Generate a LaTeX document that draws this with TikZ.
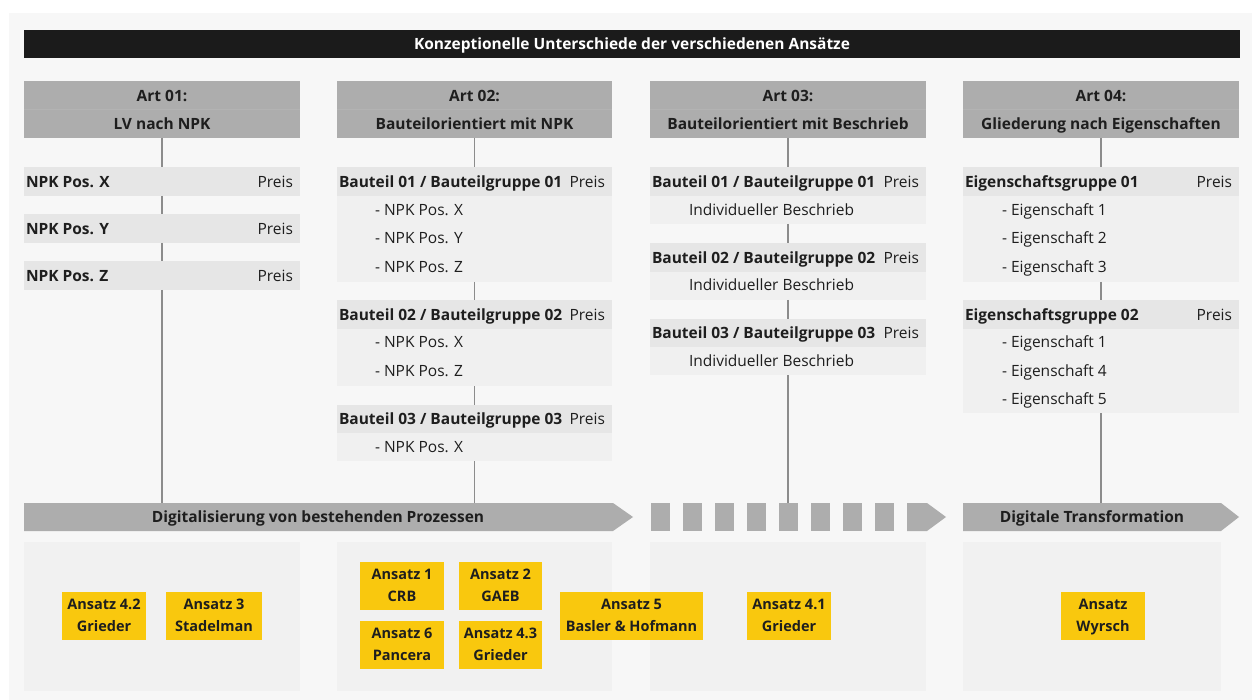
\documentclass[tikz,border=0pt]{standalone}
\usepackage{fontspec}
\IfFontExistsTF{Noto Sans Bold}
  {\setmainfont{Noto Sans}[BoldFont={Noto Sans Bold}]}
  {\setmainfont{Open Sans}}

\definecolor{pagebg}{HTML}{FFFFFF}
\definecolor{panelbg}{HTML}{F7F7F7}
\definecolor{titlebg}{HTML}{1B1B1B}
\definecolor{headbg}{HTML}{ADADAD}
\definecolor{headseam}{HTML}{B3B3B3}
\definecolor{rowbg}{HTML}{E6E6E6}
\definecolor{bodybg}{HTML}{F0F0F0}
\definecolor{lowbg}{HTML}{F1F1F1}
\definecolor{ansatzbg}{HTML}{F9C80E}
\definecolor{linegray}{HTML}{8C8C8C}
\definecolor{arrowgray}{HTML}{ADADAD}
\definecolor{txt}{HTML}{1E1E1E}

\tikzset{
  x=1pt, y=-1pt,
  every node/.style={inner sep=0pt, outer sep=0pt, text=txt},
  oneline/.style={text height=11.2pt, text depth=0pt},
  titlebox/.style={fill=titlebg, text=white, oneline, font=\fontsize{15.5}{18}\selectfont\bfseries},
  headbox/.style={fill=headbg, align=center, font=\fontsize{15.5}{28}\selectfont\bfseries},
  seam/.style={draw=headseam, line width=0.5pt},
  rowbox/.style={fill=rowbg},
  bodybox/.style={fill=bodybg},
  lowbox/.style={fill=lowbg},
  ansatzbox/.style={fill=ansatzbg, align=center, font=\fontsize{14.5}{22}\selectfont\bfseries},
  boldtxt/.style={oneline, font=\fontsize{15.5}{18}\selectfont\bfseries},
  plaintxt/.style={oneline, font=\fontsize{15.5}{18}\selectfont},
  arrowtxt/.style={oneline, font=\fontsize{15.5}{18}\selectfont\bfseries},
  conn/.style={draw=linegray, line width=1.3pt},
}

% two centred lines with struts, so every box sets its lines at the same height
\newcommand\twolines[2]{\strut #1\\\strut #2}

% box from corner (x1,y1) to corner (x2,y2), y measured downwards
\newcommand\rbox[7]{%
  \node[#2, minimum width={(#5-#3)*1pt}, minimum height={(#6-#4)*1pt}]
    (#1) at ({(#3+#5)/2},{(#4+#6)/2}) {#7};}

% column heading with a faint seam between its two lines
\newcommand\headbox[7]{%
  \rbox{#1}{headbox}{#2}{#3}{#4}{#5}{}
  \draw[seam] (#1.west) -- (#1.east);
  \node[headbox, fill=none] (#1-t) at (#1.center) {\twolines{#6}{#7}};}

% group heading row: bold title on the left, price on the right
\newcommand\grouprow[7]{%
  \rbox{#1}{rowbox}{#2}{#3}{#4}{#5}{}
  \node[boldtxt, anchor=west] (#1-t) at ([xshift=2pt]#1.west) {#6};
  \node[plaintxt, anchor=east] (#1-p) at ([xshift=-7pt]#1.east) {#7};}

\begin{document}
\begin{tikzpicture}
  \useasboundingbox (0,0) rectangle (1252,700);
  \fill[pagebg] (0,0) rectangle (1252,700);
  \fill[panelbg] (9,13) rectangle (1252,700);

  % title bar
  \rbox{title}{titlebox}{24}{30}{1240}{58}{Konzeptionelle Unterschiede der verschiedenen Ansätze}

  % column headings
  \headbox{h1}{24}{81}{300}{138}{Art 01:}{LV nach NPK}
  \headbox{h2}{337}{81}{612}{138}{Art 02:}{Bauteilorientiert mit NPK}
  \headbox{h3}{650}{81}{926}{138}{Art 03:}{Bauteilorientiert mit Beschrieb}
  \headbox{h4}{963}{81}{1239}{138}{Art 04:}{Gliederung nach Eigenschaften}

  % column 1: LV nach NPK
  \grouprow{n1}{24}{167}{300}{196}{NPK Pos. X}{Preis}
  \grouprow{n2}{24}{214}{300}{243}{NPK Pos. Y}{Preis}
  \grouprow{n3}{24}{261}{300}{290}{NPK Pos. Z}{Preis}

  % column 2: Bauteilorientiert mit NPK
  \rbox{b1b}{bodybox}{337}{196}{612}{282}{}
  \grouprow{b1h}{337}{167}{612}{196}{Bauteil 01 / Bauteilgruppe 01}{Preis}
  \node[plaintxt, anchor=west] (b1i1) at (375,210) {- NPK Pos. X};
  \node[plaintxt, anchor=west] (b1i2) at (375,238) {- NPK Pos. Y};
  \node[plaintxt, anchor=west] (b1i3) at (375,267) {- NPK Pos. Z};
  \rbox{b2b}{bodybox}{337}{329}{612}{386}{}
  \grouprow{b2h}{337}{300}{612}{329}{Bauteil 02 / Bauteilgruppe 02}{Preis}
  \node[plaintxt, anchor=west] (b2i1) at (375,342) {- NPK Pos. X};
  \node[plaintxt, anchor=west] (b2i2) at (375,371) {- NPK Pos. Z};
  \rbox{b3b}{bodybox}{337}{433}{612}{461}{}
  \grouprow{b3h}{337}{405}{612}{433}{Bauteil 03 / Bauteilgruppe 03}{Preis}
  \node[plaintxt, anchor=west] (b3i1) at (375,447) {- NPK Pos. X};

  % column 3: Bauteilorientiert mit Beschrieb
  \rbox{c1b}{bodybox}{650}{196}{926}{224}{}
  \grouprow{c1h}{650}{167}{926}{196}{Bauteil 01 / Bauteilgruppe 01}{Preis}
  \node[plaintxt, anchor=west] (c1i1) at (689,210) {Individueller Beschrieb};
  \rbox{c2b}{bodybox}{650}{272}{926}{300}{}
  \grouprow{c2h}{650}{243}{926}{272}{Bauteil 02 / Bauteilgruppe 02}{Preis}
  \node[plaintxt, anchor=west] (c2i1) at (689,285) {Individueller Beschrieb};
  \rbox{c3b}{bodybox}{650}{347}{926}{375}{}
  \grouprow{c3h}{650}{319}{926}{347}{Bauteil 03 / Bauteilgruppe 03}{Preis}
  \node[plaintxt, anchor=west] (c3i1) at (689,361) {Individueller Beschrieb};

  % column 4: Gliederung nach Eigenschaften
  \rbox{e1b}{bodybox}{963}{196}{1239}{282}{}
  \grouprow{e1h}{963}{167}{1239}{196}{Eigenschaftsgruppe 01}{Preis}
  \node[plaintxt, anchor=west] (e1i1) at (1002,210) {- Eigenschaft 1};
  \node[plaintxt, anchor=west] (e1i2) at (1002,238) {- Eigenschaft 2};
  \node[plaintxt, anchor=west] (e1i3) at (1002,267) {- Eigenschaft 3};
  \rbox{e2b}{bodybox}{963}{329}{1239}{413}{}
  \grouprow{e2h}{963}{300}{1239}{329}{Eigenschaftsgruppe 02}{Preis}
  \node[plaintxt, anchor=west] (e2i1) at (1002,342) {- Eigenschaft 1};
  \node[plaintxt, anchor=west] (e2i2) at (1002,371) {- Eigenschaft 4};
  \node[plaintxt, anchor=west] (e2i3) at (1002,399) {- Eigenschaft 5};

  % process arrows
  \fill[arrowgray] (24,503) -- (613,503) -- (633,517) -- (613,531) -- (24,531) -- cycle;
  \node[arrowtxt] (p1) at (318,517) {Digitalisierung von bestehenden Prozessen};
  \foreach \k in {0,...,7} {
    \fill[arrowgray] ({651+32*\k},503) rectangle ({670+32*\k},531);
  }
  \fill[arrowgray] (907,503) -- (927,503) -- (946,517) -- (927,531) -- (907,531) -- cycle;
  \fill[arrowgray] (963,503) -- (1221,503) -- (1239,517) -- (1221,531) -- (963,531) -- cycle;
  \node[arrowtxt] (p4) at (1092,517) {Digitale Transformation};

  \coordinate (a1) at (162,503);
  \coordinate (a2) at (474.5,503);
  \coordinate (a3) at (788,503);
  \coordinate (a4) at (1101,503);

  % connectors
  \draw[conn] (h1.south) -- (n1.north);
  \draw[conn] (n1.south) -- (n2.north);
  \draw[conn] (n2.south) -- (n3.north);
  \draw[conn] (n3.south) -- (a1);
  \draw[conn] (h2.south) -- (b1h.north);
  \draw[conn] (b1b.south) -- (b2h.north);
  \draw[conn] (b2b.south) -- (b3h.north);
  \draw[conn] (b3b.south) -- (a2);
  \draw[conn] (h3.south) -- (c1h.north);
  \draw[conn] (c1b.south) -- (c2h.north);
  \draw[conn] (c2b.south) -- (c3h.north);
  \draw[conn] (c3b.south) -- (a3);
  \draw[conn] (h4.south) -- (e1h.north);
  \draw[conn] (e1b.south) -- (e2h.north);
  \draw[conn] (e2b.south) -- (a4);

  % lower panels
  \rbox{l1}{lowbox}{24}{542}{300}{691}{}
  \rbox{l2}{lowbox}{337}{542}{612}{691}{}
  \rbox{l3}{lowbox}{650}{542}{926}{691}{}
  \rbox{l4}{lowbox}{963}{542}{1221}{691}{}

  % approaches
  \rbox{s42}{ansatzbox}{62}{592}{146}{640}{\twolines{Ansatz 4.2}{Grieder}}
  \rbox{s3}{ansatzbox}{166}{592}{262}{640}{\twolines{Ansatz 3}{Stadelman}}
  \rbox{s1}{ansatzbox}{360}{562}{444}{610}{\twolines{Ansatz 1}{CRB}}
  \rbox{s2}{ansatzbox}{459}{562}{542}{610}{\twolines{Ansatz 2}{GAEB}}
  \rbox{s6}{ansatzbox}{360}{621}{444}{669}{\twolines{Ansatz 6}{Pancera}}
  \rbox{s43}{ansatzbox}{459}{621}{542}{669}{\twolines{Ansatz 4.3}{Grieder}}
  \rbox{s5}{ansatzbox}{560}{592}{703}{640}{\twolines{Ansatz 5}{Basler \& Hofmann}}
  \rbox{s41}{ansatzbox}{747}{592}{831}{640}{\twolines{Ansatz 4.1}{Grieder}}
  \rbox{sw}{ansatzbox}{1061}{592}{1145}{640}{\twolines{Ansatz}{Wyrsch}}
\end{tikzpicture}
\end{document}
